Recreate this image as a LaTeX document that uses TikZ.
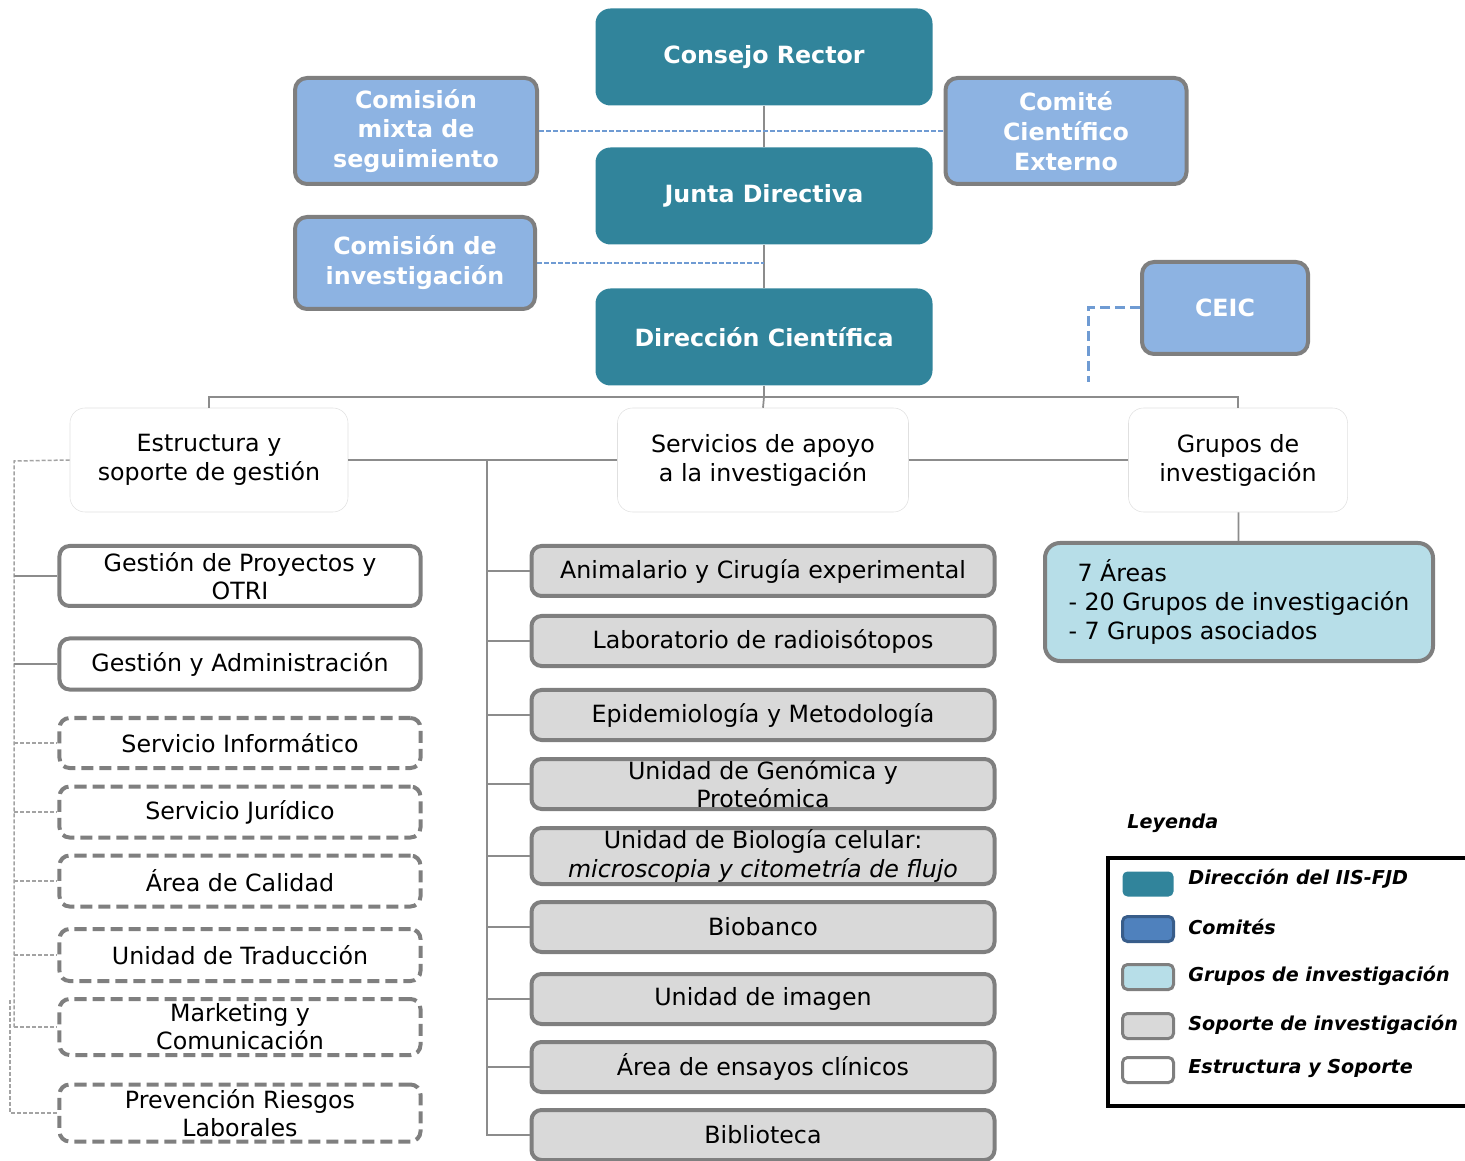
\documentclass[tikz,border=0pt]{standalone}
\usepackage{fontspec}
\setmainfont{DejaVu Sans}

\definecolor{dirteal}{HTML}{31849B}
\definecolor{comblue}{HTML}{8DB3E2}
\definecolor{boxgray}{HTML}{7F7F7F}
\definecolor{linegray}{HTML}{8C8C8C}
\definecolor{supgray}{HTML}{D9D9D9}
\definecolor{grpblue}{HTML}{B7DEE8}
\definecolor{linkblue}{HTML}{6F9BD3}
\definecolor{legblue}{HTML}{4F81BD}
\definecolor{legdblue}{HTML}{385D8A}

\tikzset{
    direccion/.style={rounded corners=3mm, fill=dirteal, text=white, align=center,
        minimum width=67.4mm, minimum height=19.4mm,
        font=\fontsize{13.5}{17}\selectfont\bfseries},
    comite/.style={rounded corners=2.4mm, fill=comblue, draw=boxgray, line width=0.8mm,
        text=white, align=center, inner sep=0pt,
        font=\fontsize{13.5}{17}\selectfont\bfseries},
    area/.style={rounded corners=3mm, fill=white, draw=black!12, line width=0.3pt,
        align=center, inner sep=0pt, minimum height=20.8mm,
        font=\fontsize{13.5}{16.5}\selectfont},
    gestion/.style={rounded corners=2mm, fill=white, draw=boxgray, line width=0.8mm,
        align=center, inner sep=0pt, minimum width=72.2mm,
        font=\fontsize{13.5}{16}\selectfont},
    gestiondash/.style={gestion, dash pattern=on 2.4mm off 1.2mm},
    apoyo/.style={rounded corners=2mm, fill=supgray, draw=boxgray, line width=0.8mm,
        align=center, inner sep=0pt, minimum width=92.6mm, minimum height=10mm,
        font=\fontsize{13.5}{16}\selectfont},
    conn/.style={draw=linegray, line width=0.35mm},
    ldash/.style={draw=linegray!80, line width=0.3mm, dash pattern=on 0.8mm off 0.4mm},
    blink/.style={draw=linkblue, line width=0.4mm, dash pattern=on 0.9mm off 0.5mm},
    swatch/.style={rounded corners=1mm, minimum width=10.2mm, minimum height=5mm,
        inner sep=0pt, line width=0.6mm},
    legtext/.style={anchor=west, inner sep=0pt, font=\fontsize{10.9}{13}\selectfont\bfseries\itshape}
}

\begin{document}
\begin{tikzpicture}[x=0.2mm, y=-0.2mm]
    \useasboundingbox (0,0) rectangle (1465,1161);

    % direccion
    \node[direccion] (cr) at (764,57) {Consejo Rector};
    \node[direccion] (jd) at (764,196) {Junta Directiva};
    \node[direccion] (dc) at (764,337) {Dirección Científica};

    % comites
    \node[comite, minimum width=48.4mm, minimum height=21.2mm] (cms) at (416,131) {Comisión\\mixta de\\seguimiento};
    \node[comite, minimum width=48.2mm, minimum height=21.2mm] (cce) at (1066,131) {Comité\\Científico\\Externo};
    \node[comite, minimum width=48mm, minimum height=18.4mm] (cin) at (415,263) {Comisión de\\investigación};
    \node[comite, minimum width=33.2mm, minimum height=18.4mm] (ceic) at (1225,308) {CEIC};
    \coordinate (ceicend) at (1088,382);

    % areas
    \node[area, minimum width=55.6mm] (est) at (209,460) {Estructura y\\soporte de gestión};
    \node[area, minimum width=58.2mm] (ser) at (763,460) {Servicios de apoyo\\a la investigación};
    \node[area, minimum width=43.8mm] (gru) at (1238,460) {Grupos de\\investigación};
    \coordinate (bar) at (764,397);

    % estructura y soporte de gestion
    \node[gestion, minimum height=12mm] (l1) at (240,576) {Gestión de Proyectos y\\OTRI};
    \node[gestion, minimum height=10.2mm] (l2) at (240,664) {Gestión y Administración};
    \node[gestiondash, minimum height=10mm] (l3) at (240,743) {Servicio Informático};
    \node[gestiondash, minimum height=10.2mm] (l4) at (240,812) {Servicio Jurídico};
    \node[gestiondash, minimum height=10.2mm] (l5) at (240,881) {Área de Calidad};
    \node[gestiondash, minimum height=10.4mm] (l6) at (240,955) {Unidad de Traducción};
    \node[gestiondash, minimum height=11.2mm] (l7) at (240,1027) {Marketing y\\Comunicación};
    \node[gestiondash, minimum height=11.4mm] (l8) at (240,1113) {Prevención Riesgos\\Laborales};
    \coordinate (lspine) at (14,461);
    \coordinate (lspine2) at (10,1000);

    % servicios de apoyo
    \node[apoyo] (m1) at (763,571) {Animalario y Cirugía experimental};
    \node[apoyo] (m2) at (763,641) {Laboratorio de radioisótopos};
    \node[apoyo] (m3) at (763,715) {Epidemiología y Metodología};
    \node[apoyo] (m4) at (763,784) {Unidad de Genómica y\\Proteómica};
    \node[apoyo, minimum height=11.2mm] (m5) at (763,856) {Unidad de Biología celular:\\\textit{microscopia y citometría de flujo}};
    \node[apoyo] (m6) at (763,927) {Biobanco};
    \node[apoyo] (m7) at (763,999) {Unidad de imagen};
    \node[apoyo] (m8) at (763,1067) {Área de ensayos clínicos};
    \node[apoyo] (m9) at (763,1135) {Biblioteca};
    \coordinate (mspine) at (487,461);

    % grupos
    \node[rounded corners=3mm, fill=grpblue, draw=boxgray, line width=0.8mm, inner sep=0pt,
        minimum width=77.6mm, minimum height=23.6mm, align=left,
        font=\fontsize{13.5}{16.5}\selectfont] (g1) at (1239,602)
        {\hspace*{1.8mm}7 Áreas\\- 20 Grupos de investigación\\- 7 Grupos asociados};

    % lines
    \draw[conn] (cr) -- (jd);
    \draw[conn] (jd) -- (dc);
    \draw[blink] (cms.east) -- (cce.west);
    \draw[blink] (cin.east) -- (cin.east -| jd.south);
    \draw[blink, line width=0.6mm, dash pattern=on 2mm off 1mm] (ceic.west) -| (ceicend);
    \draw[conn] (dc) -- (bar);
    \draw[conn] (est.north) |- (bar) -| (gru.north);
    \draw[conn] (bar) -- (ser.north);
    \draw[conn] (est.east) -- (ser.west);
    \draw[conn] (ser.east) -- (gru.west);
    \draw[conn] (gru) -- (g1);

    \draw[ldash] (est.west) -- (lspine) -- (lspine |- l7.west);
    \draw[conn] (lspine |- l1.west) -- (l1.west);
    \draw[conn] (lspine |- l2.west) -- (l2.west);
    \draw[ldash] (lspine |- l3.west) -- (l3.west);
    \draw[ldash] (lspine |- l4.west) -- (l4.west);
    \draw[ldash] (lspine |- l5.west) -- (l5.west);
    \draw[ldash] (lspine |- l6.west) -- (l6.west);
    \draw[ldash] (lspine |- l7.west) -- (l7.west);
    \draw[ldash] (lspine2) |- (l8.west);

    \draw[conn] (mspine) |- (m9.west);
    \draw[conn] (mspine |- m1.west) -- (m1.west);
    \draw[conn] (mspine |- m2.west) -- (m2.west);
    \draw[conn] (mspine |- m3.west) -- (m3.west);
    \draw[conn] (mspine |- m4.west) -- (m4.west);
    \draw[conn] (mspine |- m5.west) -- (m5.west);
    \draw[conn] (mspine |- m6.west) -- (m6.west);
    \draw[conn] (mspine |- m7.west) -- (m7.west);
    \draw[conn] (mspine |- m8.west) -- (m8.west);

    % leyenda
    \node[legtext] (ley) at (1127,823) {Leyenda};
    \draw[line width=0.8mm] (1108,858) rectangle (1490,1106);
    \node[swatch, fill=dirteal] (s1) at (1148,884) {};
    \node[swatch, fill=legblue, draw=legdblue] (s2) at (1148,929) {};
    \node[swatch, fill=grpblue, draw=boxgray] (s3) at (1148,977) {};
    \node[swatch, fill=supgray, draw=boxgray] (s4) at (1148,1026) {};
    \node[swatch, fill=white, draw=boxgray] (s5) at (1148,1070) {};
    \node[legtext] (t1) at (1188,879) {Dirección del IIS-FJD};
    \node[legtext] (t2) at (1188,927) {Comités};
    \node[legtext] (t3) at (1188,976) {Grupos de investigación};
    \node[legtext] (t4) at (1188,1025) {Soporte de investigación};
    \node[legtext] (t5) at (1188,1068) {Estructura y Soporte};
\end{tikzpicture}
\end{document}
